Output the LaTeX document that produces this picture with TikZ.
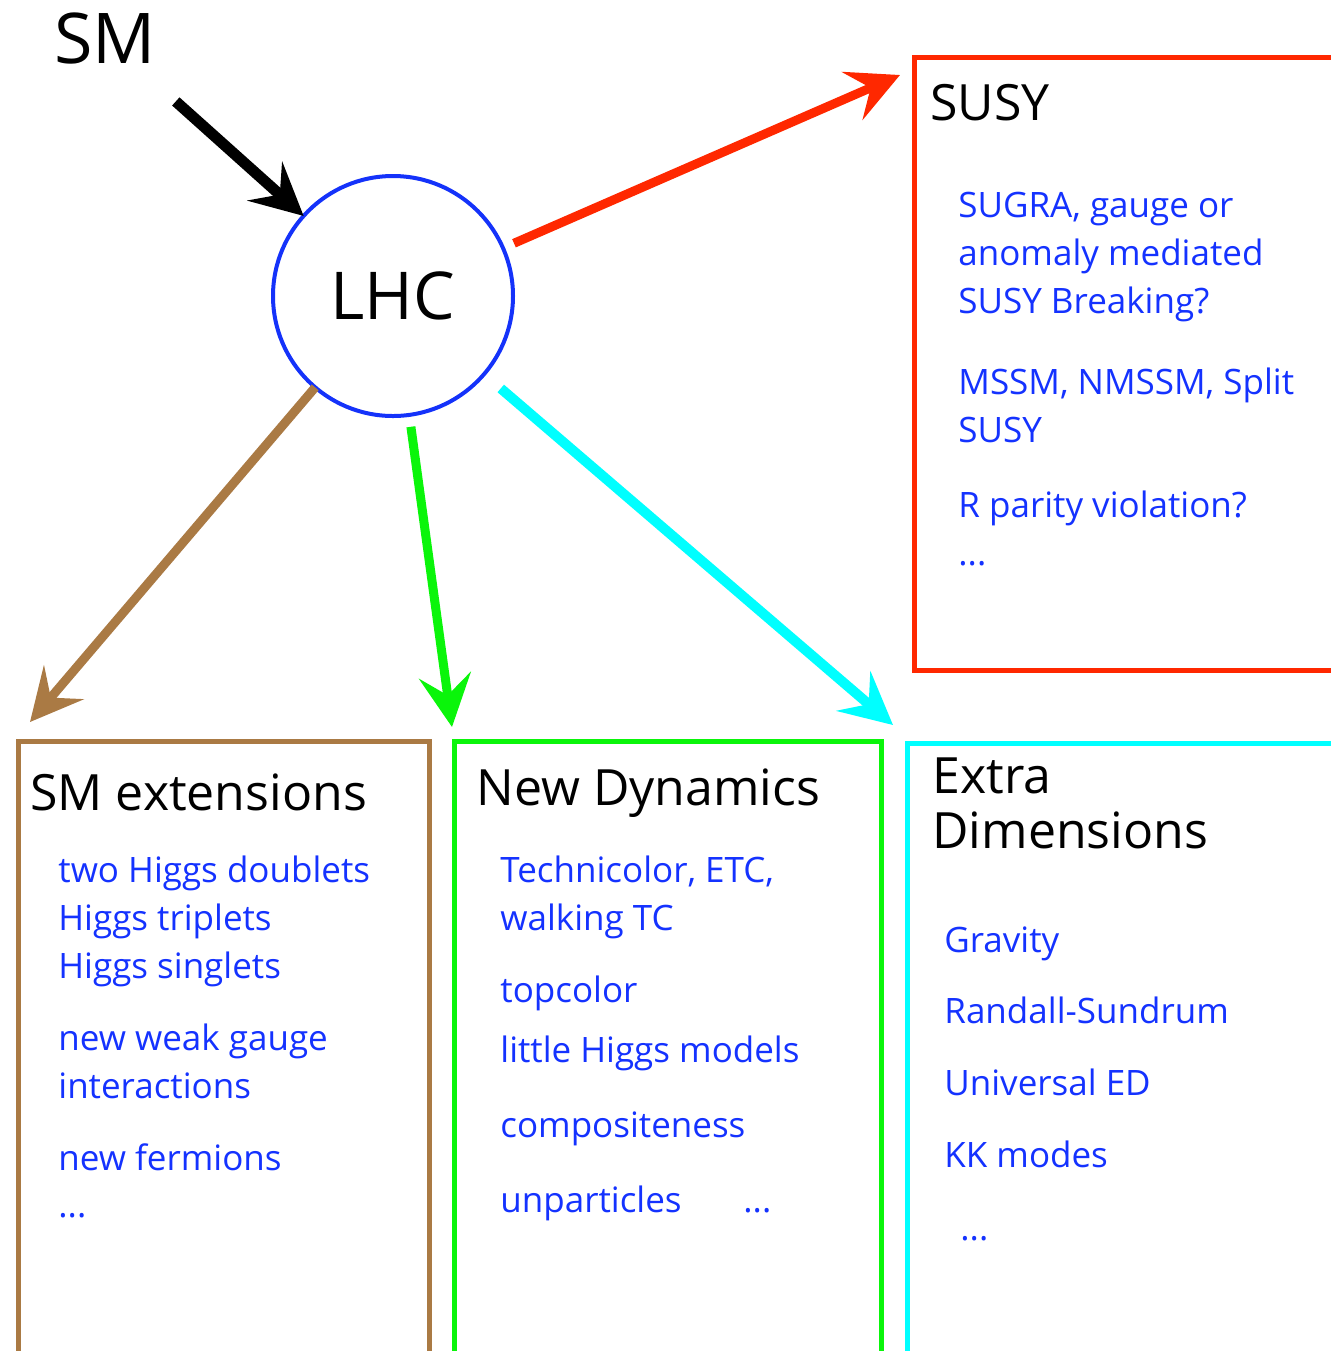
\documentclass[tikz,border=0pt]{standalone}
\usepackage{fontspec}
\setmainfont{Open Sans}
\usepackage{xcolor}
\usepackage{tikz}
\usetikzlibrary{arrows.meta}

\definecolor{lhcblue}{RGB}{20,50,250}
\definecolor{itemblue}{RGB}{20,50,255}
\definecolor{susyred}{RGB}{255,40,0}
\definecolor{smbrown}{RGB}{170,122,68}
\definecolor{dyngreen}{RGB}{10,245,10}
\definecolor{edcyan}{RGB}{0,255,255}

\tikzset{
  bigarrow/.style={line width=4.5pt, -{Stealth[length=26pt,width=26pt,inset=10pt]}},
  area/.style={draw, line width=2.5pt, rectangle, anchor=north west, inner sep=0pt, outer sep=0pt},
  title/.style={anchor=base west, inner sep=0pt, font=\fontsize{25}{27.5}\selectfont, align=left},
  item/.style={anchor=base west, inner sep=0pt, text=itemblue, font=\fontsize{17.5}{24}\selectfont, align=left},
}

\begin{document}
\begin{tikzpicture}[x=0.5pt, y=-0.5pt]
			\path[use as bounding box, clip] (0,0) rectangle (1331,1351);
			% start and centre
			\node[anchor=base, inner sep=0pt, font=\fontsize{35}{40}\selectfont] (sm) at (105,63) {SM};
			\node[circle, draw=lhcblue, line width=2pt, minimum size=120pt, inner sep=0pt, outer sep=0pt, font=\fontsize{33}{36}\selectfont] (lhc) at (393,296) {LHC};
			% the four boxes
			\node[area, draw=susyred, minimum width=250pt, minimum height=306.5pt] (susy) at (914,57) {};
			\node[area, draw=smbrown, minimum width=205.5pt, minimum height=350pt] (smext) at (18,741) {};
			\node[area, draw=dyngreen, minimum width=213.5pt, minimum height=350pt] (newdyn) at (454,741) {};
			\node[area, draw=edcyan, minimum width=250pt, minimum height=350pt] (extradim) at (907,743) {};
			% arrows
			\draw[bigarrow, line width=5.5pt, shorten <=28pt] (sm) -- (lhc);
			\draw[bigarrow, susyred, shorten <=6pt] (lhc) -- ([shift={(-14,18)}]susy.north west);
			\draw[bigarrow, smbrown] (lhc) -- ([shift={(12,-19)}]smext.north west);
			\draw[bigarrow, dyngreen, shorten <=6pt] (lhc) -- ([shift={(-2,-14)}]newdyn.north west);
			\draw[bigarrow, edcyan, line width=5pt, shorten <=11pt] (lhc) -- ([shift={(-14,-18)}]extradim.north west);
			% SUSY
			\node[title] (susyhead) at (930,120) {SUSY};
			\node[item] (susya) at (958,313) {SUGRA, gauge or\\anomaly mediated\\SUSY Breaking?};
			\node[item] (susyb) at (958,442) {MSSM, NMSSM, Split\\SUSY};
			\node[item] (susyc) at (958,517) {R parity violation?};
			\node[item] (susyd) at (958,565) {...};
			% SM extensions
			\node[title] (smexthead) at (30,810) {SM extensions};
			\node[item] (smexta) at (58,978) {two Higgs doublets\\Higgs triplets\\Higgs singlets};
			\node[item] (smextb) at (58,1098) {new weak gauge\\interactions};
			\node[item] (smextc) at (58,1170) {new fermions};
			\node[item] (smextd) at (58,1217) {...};
			% New Dynamics
			\node[title] (newdynhead) at (476,805) {New Dynamics};
			\node[item] (newdyna) at (500,930) {Technicolor, ETC,\\walking TC};
			\node[item] (newdynb) at (500,1002) {topcolor};
			\node[item] (newdync) at (500,1062) {little Higgs models};
			\node[item] (newdynd) at (500,1137) {compositeness};
			\node[item] (newdyne) at (500,1212) {unparticles};
			\node[item] (newdynf) at (743,1212) {...};
			% Extra Dimensions
			\node[title] (extradimhead) at (932,848) {Extra\\Dimensions};
			\node[item] (extradima) at (944,952) {Gravity};
			\node[item] (extradimb) at (944,1023) {Randall-Sundrum};
			\node[item] (extradimc) at (944,1095) {Universal ED};
			\node[item] (extradimd) at (944,1167) {KK modes};
			\node[item] (extradime) at (960,1240) {...};
		\end{tikzpicture}
\end{document}
